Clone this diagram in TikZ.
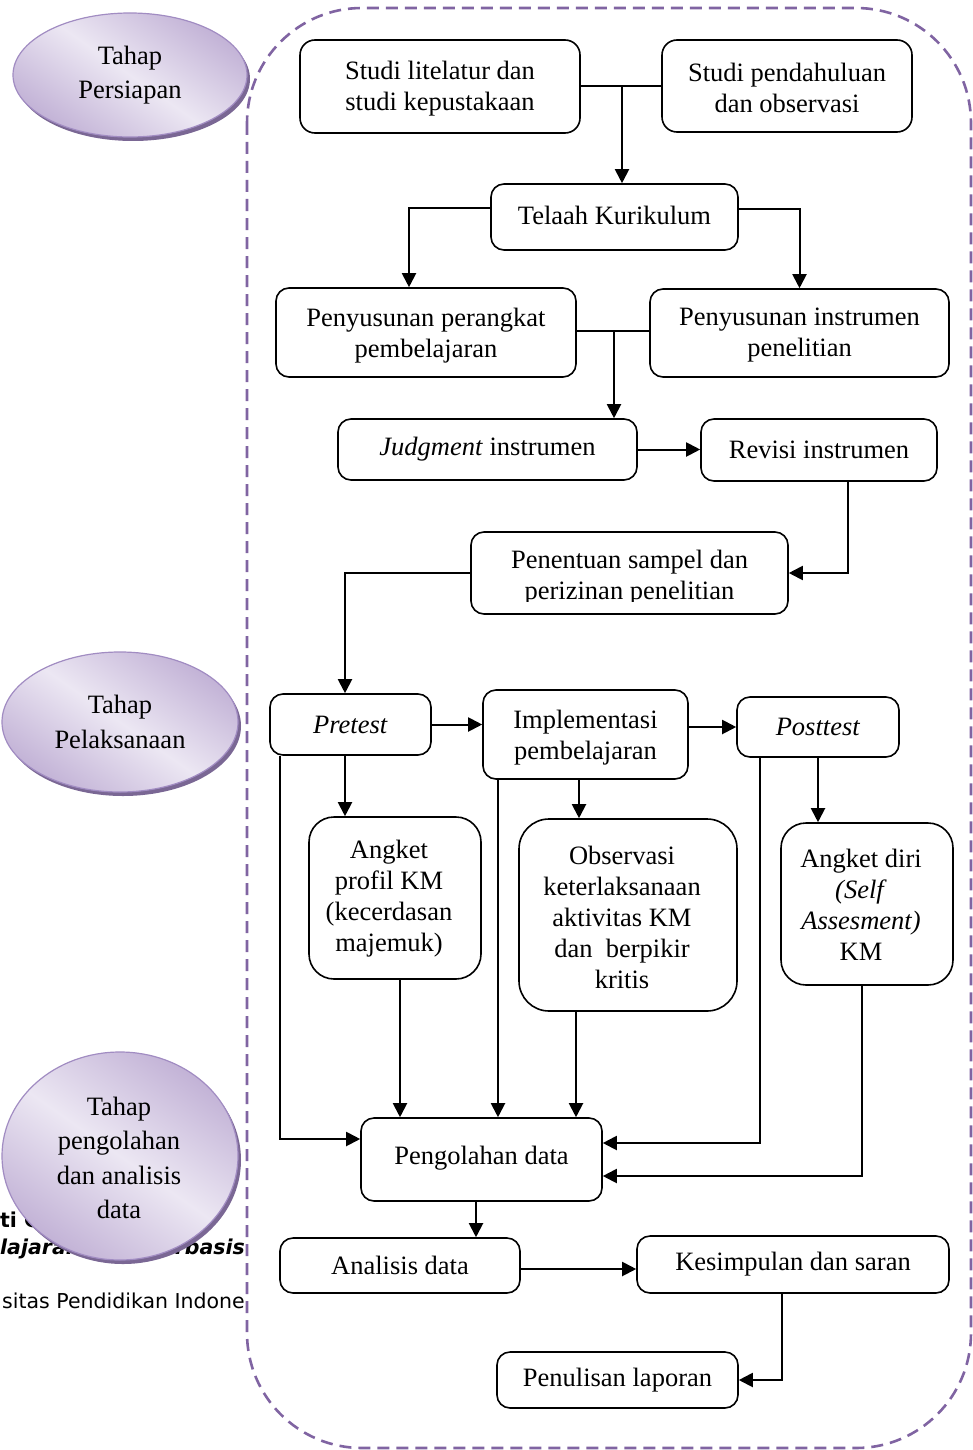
\documentclass[tikz,border=0pt]{standalone}
\usepackage{fontspec}
\setmainfont{Liberation Serif}
\newfontfamily\bgsans{DejaVu Sans}
\usetikzlibrary{arrows.meta,calc}
\definecolor{dashpurple}{HTML}{8064A2}
\definecolor{lavlight}{HTML}{ECE7F3}
\definecolor{lavdark}{HTML}{C2B2D6}
\definecolor{lavedge}{HTML}{A18CC2}
\definecolor{lavshadow}{HTML}{7A6794}
\begin{document}
\begin{tikzpicture}[x=1pt,y=-1pt,
  box/.style={draw, line width=1.6pt, rounded corners=13pt, align=center, inner sep=0pt, font=\fontsize{26.5}{31}\selectfont},
  boxtext/.style={align=center, inner sep=0pt, font=\fontsize{26.5}{31}\selectfont},
  conn/.style={line width=2pt},
  arr/.style={conn, -{Triangle[length=14pt,width=14pt]}},
  phasetext/.style={align=center, font=\fontsize{26.5}{34.5}\selectfont, inner sep=0pt},
  bgtext/.style={inner sep=0pt, font=\bgsans\fontsize{20.5}{24}\selectfont},
  phaseshade/.style={draw=lavedge, line width=1.2pt, top color=lavdark, bottom color=lavdark, middle color=lavlight, shading angle=-35}]
\useasboundingbox (0,0) rectangle (973,1450);

% background page text fragments
\begin{scope}
\clip (0,1190) rectangle (246,1330);
\node[bgtext, anchor=base west] (bgA) at (0,1227) {\bfseries ti C};
\node[bgtext, anchor=base west] (bgB) at (0,1254) {\bfseries\itshape lajaran};
\node[bgtext, anchor=base east] (bgC) at (245,1254) {\bfseries\itshape rbasis};
\node[bgtext, anchor=base east] (bgD) at (245,1308) {sitas Pendidikan Indone};
\end{scope}

% dashed frame
\draw[dashpurple, line width=2.6pt, dash pattern=on 12pt off 7pt, rounded corners=115pt] (247,8) rectangle (971,1448);

% phase ellipses
\fill[lavshadow] (133,79) ellipse [x radius=117pt, y radius=62pt];
\path[phaseshade] (130,75) ellipse [x radius=117pt, y radius=62pt];
\node[phasetext] (e1) at (130,75) {Tahap\\Persiapan};

\fill[lavshadow] (123,726) ellipse [x radius=118pt, y radius=70pt];
\path[phaseshade] (120,722) ellipse [x radius=118pt, y radius=70pt];
\node[phasetext] (e2) at (120,722) {Tahap\\Pelaksanaan};

\fill[lavshadow] (123,1160) ellipse [x radius=118pt, y radius=104pt];
\path[phaseshade] (120,1156) ellipse [x radius=118pt, y radius=104pt];
\node[phasetext] (e3) at (119,1158) {Tahap\\pengolahan\\dan analisis\\data};

% boxes
\node[box, rounded corners=15pt, minimum width=280pt, minimum height=93pt] (b1) at (440,86.5) {};
\node[boxtext] (b1t) at (440,88.5) {Studi litelatur dan\\studi kepustakaan};
\node[box, rounded corners=15pt, minimum width=250pt, minimum height=92pt] (b2) at (787,86) {};
\node[boxtext] (b2t) at (787,87.5) {Studi pendahuluan\\dan observasi};
\node[box, minimum width=247pt, minimum height=66pt] (b3) at (614.5,217) {\raisebox{3pt}{Telaah Kurikulum}};
\node[box, minimum width=300pt, minimum height=89pt] (b4) at (426,332.5) {};
\node[boxtext] (b4t) at (426,335.5) {Penyusunan perangkat\\pembelajaran};
\node[box, minimum width=299pt, minimum height=88pt] (b5) at (799.5,333) {};
\node[boxtext] (b5t) at (799.5,335.5) {Penyusunan instrumen\\penelitian};
\node[box, minimum width=299pt, minimum height=61pt] (b6) at (487.5,449.5) {\textit{Judgment} instrumen};
\node[box, minimum width=236pt, minimum height=62pt] (b7) at (819,450) {Revisi instrumen};
\node[box, minimum width=317pt, minimum height=82pt] (b8) at (629.5,573) {};
\begin{scope}
\clip (471,530) rectangle (788,601);
\node[boxtext] (b8t) at (629.5,578) {Penentuan sampel dan\\perizinan penelitian};
\end{scope}
\node[box, minimum width=161pt, minimum height=61pt] (b9) at (350.5,724.5) {\textit{Pretest}};
\node[box, minimum width=205pt, minimum height=89pt] (b10) at (585.5,734.5) {};
\node[boxtext] (b10t) at (585.5,737.5) {Implementasi\\pembelajaran};
\node[box, minimum width=162pt, minimum height=60pt] (b11) at (818,727) {\textit{Posttest}};
\node[box, rounded corners=25pt, minimum width=172pt, minimum height=162pt] (b12) at (395,898) {};
\node[boxtext] (b12t) at (389,899) {Angket\\profil KM\\(kecerdasan\\majemuk)};
\node[box, rounded corners=30pt, minimum width=218pt, minimum height=192pt] (b13) at (628,915) {};
\node[boxtext] (b13t) at (622,917) {Observasi\\keterlaksanaan\\aktivitas KM\\dan\ \ berpikir\\kritis};
\node[box, rounded corners=25pt, minimum width=172pt, minimum height=162pt] (b14) at (867,904) {};
\node[boxtext] (b14t) at (861,904.5) {Angket diri\\\textit{(Self}\\\textit{Assesment)}\\KM};
\node[box, minimum width=241pt, minimum height=83pt] (b15) at (481.5,1159.5) {\raisebox{8pt}{Pengolahan data}};
\node[box, minimum width=240pt, minimum height=55pt] (b16) at (400,1265.5) {Analisis data};
\node[box, minimum width=312pt, minimum height=57pt] (b17) at (793,1264.5) {Kesimpulan dan saran};
\node[box, minimum width=241pt, minimum height=56pt] (b18) at (617.5,1380) {Penulisan laporan};

% connectors
\draw[conn] (b1.east) -- (b1.east -| b2.west);
\coordinate (j1) at (622,86.5);
\draw[arr] (j1) -- (j1 |- b3.north);
\draw[arr] ([yshift=9pt]b3.west) -| ([xshift=-17pt]b4.north);
\draw[arr] ([yshift=8pt]b3.east) -| (b5.north);
\draw[conn] ([yshift=1.5pt]b4.east) -- ([yshift=1.5pt]b4.east -| b5.west);
\coordinate (j2) at (614,331);
\draw[arr] (j2) -- (j2 |- b6.north);
\draw[arr] (b6.east) -- (b6.east -| b7.west);
\draw[arr] ([xshift=29pt]b7.south) |- (b8.east);
\draw[arr] (b8.west) -| ([xshift=-5.5pt]b9.north);
\draw[arr] (b9.east) -- (b9.east -| b10.west);
\draw[arr] (b11.west -| b10.east) -- (b11.west);
\draw[arr] ([xshift=-5.5pt]b9.south) -- ([xshift=-5.5pt]b9.south |- b12.north);
\draw[arr] ([xshift=-70.5pt]b9.south) |- ([yshift=20.5pt]b15.west);
\draw[arr] ([xshift=-6.5pt]b10.south) -- ([xshift=-6.5pt]b10.south |- b13.north);
\draw[arr] ([xshift=-87.5pt]b10.south) -- ([xshift=-87.5pt]b10.south |- b15.north);
\draw[arr] (b11.south) -- (b11.south |- b14.north);
\draw[arr] ([xshift=-58pt]b11.south) |- ([yshift=16.5pt]b15.east);
\draw[arr] ([xshift=-5pt]b14.south) |- ([yshift=-16.5pt]b15.east);
\draw[arr] ([xshift=5pt]b12.south) -- ([xshift=5pt]b12.south |- b15.north);
\draw[arr] ([xshift=-52pt]b13.south) -- ([xshift=-52pt]b13.south |- b15.north);
\draw[arr] ([xshift=-5.5pt]b15.south) -- ([xshift=-5.5pt]b15.south |- b16.north);
\draw[arr] ([yshift=-3.5pt]b16.east) -- ([yshift=-3.5pt]b16.east -| b17.west);
\draw[arr] ([xshift=-11pt]b17.south) |- (b18.east);
\end{tikzpicture}
\end{document}
